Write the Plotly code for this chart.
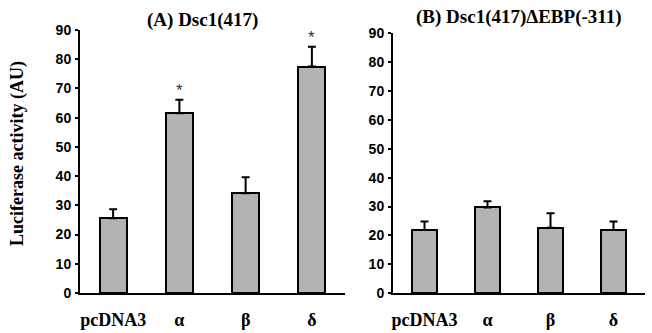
import plotly.graph_objects as go

categories = ["pcDNA3", "α", "β", "δ"]
values_a = [25.6, 61.5, 34.1, 77.5]
errors_a = [3.1, 4.6, 5.5, 6.8]
stars_a = ["", "*", "", "*"]
values_b = [21.9, 29.7, 22.7, 21.9]
errors_b = [2.9, 2.1, 5.0, 2.9]
y_ticks = [0, 10, 20, 30, 40, 50, 60, 70, 80, 90]
title_a = "(A) Dsc1(417)"
title_b = "(B) Dsc1(417)ΔEBP(-311)"
y_title = "Luciferase activity (AU)"

W, H = 652, 333
fill = "#b3b3b3"

fig = go.Figure()
for vals, errs, xa, ya in [(values_a, errors_a, "x", "y"), (values_b, errors_b, "x2", "y2")]:
    fig.add_trace(go.Bar(
        x=categories, y=vals, xaxis=xa, yaxis=ya, width=0.41,
        marker=dict(color=fill, line=dict(color="black", width=2)),
        error_y=dict(type="data", array=errs, arrayminus=[0]*len(errs), symmetric=False,
                     color="black", thickness=2, width=4),
        showlegend=False, hoverinfo="skip",
    ))

for c, v, e, s in zip(categories, values_a, errors_a, stars_a):
    if s:
        fig.add_annotation(x=c, y=v + e, xref="x", yref="y", text=s, showarrow=False,
                           yshift=9, font=dict(family="Liberation Sans", size=17, color="#333"))

yax = dict(range=[0, 90], tickvals=y_ticks, ticktext=[f"<b>{t}</b>" for t in y_ticks],
           ticks="outside", ticklen=3, tickwidth=1.5, automargin=False,
           tickcolor="black", showline=True, linecolor="black", linewidth=2, showgrid=False,
           zeroline=False, tickfont=dict(family="Liberation Sans", size=14, color="black"),
           ticklabelstandoff=1)
xax = dict(showline=True, linecolor="black", linewidth=2, ticks="", showgrid=False,
           tickvals=categories, ticktext=[f"<b>{c}</b>" for c in categories], automargin=False,
           tickfont=dict(family="Liberation Serif", size=18, color="black"),
           ticklabelstandoff=9, fixedrange=True)

fig.update_layout(
    width=W, height=H, margin=dict(l=0, r=0, t=0, b=0, pad=0), autosize=False,
    paper_bgcolor="white", plot_bgcolor="white", bargap=0,
    xaxis=dict(domain=[80 / W, 345 / W], anchor="y", **xax),
    xaxis2=dict(domain=[393 / W, 645 / W], anchor="y2", **xax),
    yaxis=dict(domain=[(H - 293) / H, (H - 30) / H], anchor="x", **yax),
    yaxis2=dict(domain=[(H - 293.3) / H, (H - 33) / H], anchor="x2", **yax),
)

fig.add_annotation(x=202 / W, y=(H - 20) / H, xref="paper", yref="paper", text=f"<b>{title_a}</b>",
                   xanchor="center", yanchor="middle",
                   showarrow=False, font=dict(family="Liberation Serif", size=19, color="black"))
fig.add_annotation(x=519 / W, y=(H - 17) / H, xref="paper", yref="paper", text=f"<b>{title_b}</b>",
                   xanchor="center", yanchor="middle",
                   showarrow=False, font=dict(family="Liberation Serif", size=19, color="black"))
fig.add_annotation(x=17 / W, y=(H - 154) / H, xref="paper", yref="paper", text=f"<b>{y_title}</b>",
                   textangle=-90, xanchor="center", yanchor="middle",
                   showarrow=False, font=dict(family="Liberation Serif", size=18, color="black"))

fig.write_html("out.html", config={"displayModeBar": False},
               post_script="document.body.style.margin='0';document.body.style.overflow='hidden';")
